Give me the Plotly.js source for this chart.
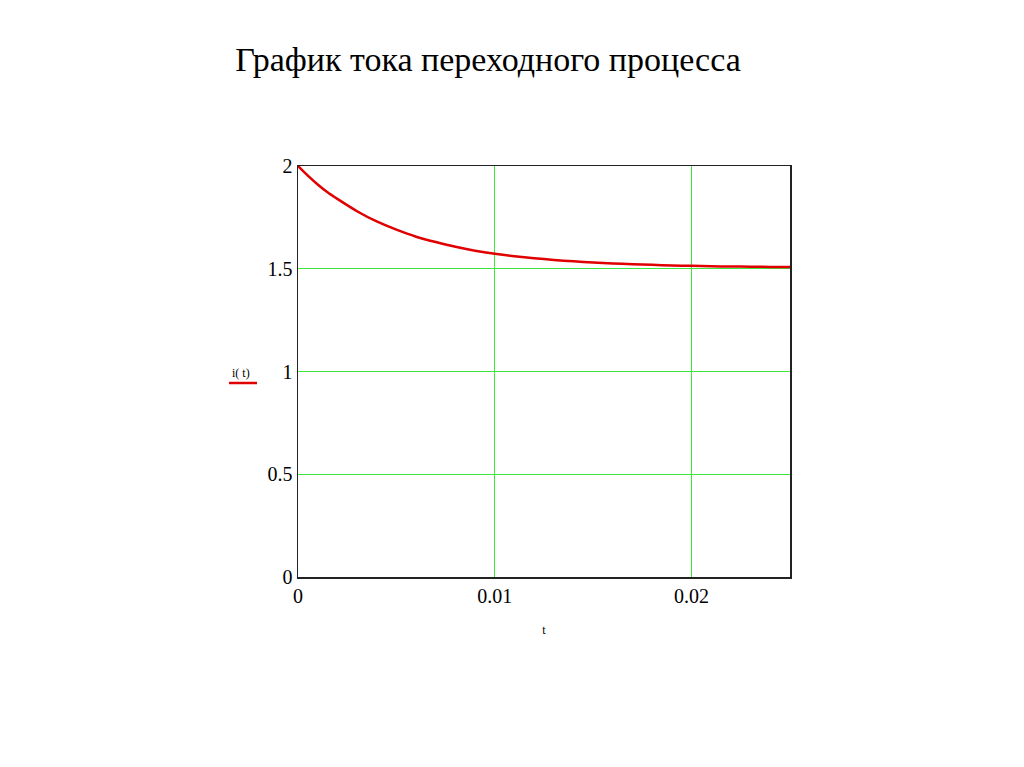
<!DOCTYPE html>
<html>
<head>
<meta charset="utf-8">
<script src="https://cdn.plot.ly/plotly-3.0.1.min.js"></script>
<style>html,body{margin:0;padding:0;background:#fff;}#chart{width:1024px;height:767px;}</style>
</head>
<body>
<div id="chart"></div>
<script>
const titleText = "График тока переходного процесса";
const seriesName = "i( t)";
const xTitle = "t";
const tValues = [0, 0.0005, 0.001, 0.0015, 0.002, 0.003, 0.004, 0.005, 0.006, 0.007, 0.008, 0.009, 0.010, 0.011, 0.012, 0.013, 0.014, 0.015, 0.016, 0.017, 0.018, 0.019, 0.020, 0.021, 0.022, 0.023, 0.024, 0.025];
const iValues = [2.0, 1.953, 1.91, 1.872, 1.84, 1.78, 1.73, 1.69, 1.656, 1.63, 1.607, 1.588, 1.573, 1.561, 1.551, 1.543, 1.536, 1.530, 1.526, 1.522, 1.519, 1.516, 1.514, 1.512, 1.511, 1.510, 1.509, 1.508];
const xTickVals = [0, 0.01, 0.02];
const xTickText = ["0", "0.01", "0.02"];
const yTickVals = [0, 0.5, 1, 1.5, 2];
const yTickText = ["0", "0.5", "1", "1.5", "2"];

const font = "Liberation Serif, Times New Roman, serif";
const trace = {
  x: tValues, y: iValues, type: 'scatter', mode: 'lines',
  line: {color: '#e00000', width: 2.5, shape: 'spline', smoothing: 0.6}, name: seriesName, showlegend: false, hoverinfo: 'skip'
};
const layout = {
  width: 1024, height: 767,
  paper_bgcolor: '#fff', plot_bgcolor: '#fff',
  margin: {l: 298, r: 234, t: 166, b: 190},
  title: {text: titleText, x: 488/1024, xanchor: 'center', y: 1 - 59/767, yanchor: 'middle',
          font: {family: font, size: 34, color: '#000'}},
  xaxis: {
    range: [0, 0.025], tickvals: xTickVals, ticktext: xTickText,
    showgrid: true, gridcolor: '#3ce63c', gridwidth: 1.4,
    zeroline: false, showline: true, mirror: true, linecolor: '#222', linewidth: 1.5,
    ticks: '', tickfont: {family: font, size: 20, color: '#000'},
    title: {text: xTitle, font: {family: font, size: 12, color: '#000'}, standoff: 20}
  },
  yaxis: {
    range: [0, 2], tickvals: yTickVals, ticktext: yTickText,
    showgrid: true, gridcolor: '#3ce63c', gridwidth: 1.4,
    zeroline: false, showline: true, mirror: true, linecolor: '#222', linewidth: 1.5,
    ticks: '', tickfont: {family: font, size: 20, color: '#000'}
  },
  annotations: [
    {text: seriesName, xref: 'paper', yref: 'paper', x: (241-298)/492, y: (577-373)/411,
     xanchor: 'center', yanchor: 'middle', showarrow: false,
     font: {family: font, size: 12, color: '#000'}}
  ],
  shapes: [
    {type: 'line', xref: 'paper', yref: 'paper', x0: (229-298)/492, x1: (257-298)/492,
     y0: (577-383)/411, y1: (577-383)/411, line: {color: '#e00000', width: 2.5}}
  ]
};
Plotly.newPlot('chart', [trace], layout, {staticPlot: true, displayModeBar: false});
</script>
</body>
</html>
